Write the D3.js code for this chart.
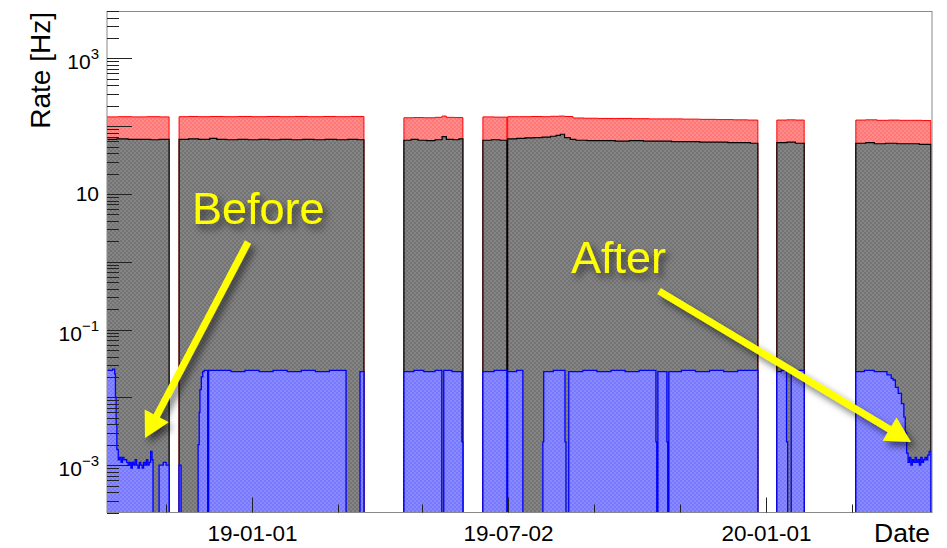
<!DOCTYPE html>
<html>
<head>
<meta charset="utf-8">
<script src="https://cdn.jsdelivr.net/npm/d3@7"></script>
<style>
  html, body { margin: 0; padding: 0; background: #fff; overflow: hidden; }
  text { font-family: "Liberation Sans", Arial, Helvetica, sans-serif; }
</style>
</head>
<body>
<svg id="chart" width="947" height="548"></svg>
<script>
// Reference day for the time offsets below
const startDate = "2019-01-01";

// Rates as [days since startDate, rate in Hz]; each step holds until the next entry, 0 = no data
const totalRate = [
  [-103, 137], [-95, 138], [-85, 137], [-75, 138], [-65, 137], [-58.9, 0],
  [-51.8, 138], [-45, 139], [-38, 138], [-30, 139], [-20, 138], [-10, 139], [0, 138], [10, 139],
  [20, 138], [30, 139], [40, 138], [50, 139], [60, 138], [70, 139], [79.5, 0],
  [107.9, 133], [115, 134], [122, 133], [130, 135], [135, 141], [138, 135], [144, 134], [149.8, 0],
  [164, 137], [172, 136], [181, 0], [181.6, 138], [190, 138], [198, 139], [206, 138], [212, 140],
  [218, 141], [222, 139], [228, 132], [236, 131], [246, 130], [258, 130], [270, 129], [282, 128],
  [294, 128], [306, 127], [318, 126], [330, 125], [342, 124], [352, 123], [359.3, 0],
  [372.8, 123], [380, 124], [386, 123], [392.2, 0],
  [428.9, 123], [436, 124], [444, 122], [452, 123], [460, 122], [468, 122], [476, 121], [482.2, 0]
];

const selectedRate = [
  [-103, 64], [-96, 65], [-88, 64], [-80, 64], [-72, 63], [-66, 64], [-58.9, 0],
  [-51.8, 64], [-45, 65], [-38, 64], [-30, 66], [-25, 64], [-18, 63], [-10, 64], [-3, 63], [5, 64],
  [12, 63], [20, 64], [28, 63], [36, 64], [44, 63], [52, 64], [60, 63], [68, 64], [75, 63], [79.5, 0],
  [107.9, 62], [113, 64], [118, 62], [124, 61], [130, 63], [135, 70], [138, 64], [143, 63], [147, 65], [149.8, 0],
  [164, 62], [170, 63], [176, 62], [181, 0], [181.6, 65], [188, 66], [194, 67], [200, 68], [206, 69],
  [212, 71], [216, 73], [219, 76], [222, 68], [226, 64], [230, 62], [238, 61], [248, 61], [258, 60],
  [268, 61], [278, 60], [288, 60], [298, 59], [308, 59], [318, 58], [328, 58], [338, 57], [348, 57],
  [354, 56], [359.3, 0],
  [372.8, 57], [380, 58], [386, 56], [392.2, 0],
  [428.9, 56], [436, 57], [442, 55], [450, 56], [458, 55], [466, 55], [474, 54], [482.2, 0]
];

const filteredRate = [
  [-103, 0.025], [-99, 0.026], [-97.5, 0.022], [-97, 0.01], [-96.5, 0.004], [-96, 0.0017],
  [-95, 0.0012], [-94, 0.0013], [-93, 0.0011], [-92, 0.0013], [-91, 0.0012], [-90, 0.0012],
  [-89, 0.0011], [-88, 0.0010], [-87, 0.0011], [-86, 0.0009], [-85, 0.0011], [-84, 0.0010],
  [-83, 0.0012], [-82, 0.0010], [-81, 0.0009], [-80, 0.0011], [-79, 0.0010], [-78, 0.0009],
  [-77, 0.0011], [-76, 0.0010], [-75, 0.0012], [-74, 0.0010], [-73, 0.0011], [-72, 0.0016],
  [-71, 0.0012], [-70.3, 0], [-66, 0.0010], [-63, 0.0011], [-61, 0.0010], [-58.9, 0],
  [-51.8, 0.0010], [-50.4, 0], [-38.3, 0.002], [-37.5, 0.006], [-37, 0.013], [-36, 0.02],
  [-35, 0.024], [-34, 0.025], [-31.5, 0], [-30.8, 0.025], [-25, 0.025], [-15, 0.024], [-5, 0.025],
  [5, 0.024], [15, 0.025], [25, 0.024], [35, 0.025], [45, 0.024], [55, 0.025], [66.8, 0],
  [76.7, 0.024], [79.5, 0],
  [107.9, 0.024], [115, 0.025], [122, 0.024], [130, 0.025], [134.8, 0], [136.2, 0.025],
  [142, 0.024], [149.1, 0.0022], [149.8, 0],
  [164, 0.024], [172, 0.025], [181, 0], [181.6, 0.024], [188, 0.025], [192.4, 0],
  [206.6, 0.0022], [207.2, 0.024], [214, 0.025], [222.3, 0.0022], [223, 0], [225, 0.024],
  [235, 0.025], [245, 0.024], [255, 0.025], [265, 0.024], [275, 0.025], [286.9, 0.0022],
  [287.5, 0], [288.3, 0.024], [294.7, 0.0022], [295.3, 0], [296.1, 0.024], [305, 0.025],
  [315, 0.024], [325, 0.025], [335, 0.024], [345, 0.025], [359.3, 0],
  [372.8, 0.024], [376, 0.025], [379.7, 0.0022], [380.5, 0], [383, 0.024], [388, 0.025], [392.2, 0],
  [428.9, 0.024], [435, 0.025], [442, 0.024], [448, 0.024], [451, 0.0215], [454, 0.019],
  [455.4, 0.018], [457, 0.014], [459, 0.0114], [461.3, 0.0081], [463, 0.0051], [464, 0.003],
  [465, 0.0015], [466, 0.0011], [467, 0.0013], [468, 0.0010], [469, 0.0012], [470, 0.0011],
  [471, 0.0013], [472, 0.0011], [473, 0.0012], [474, 0.0010], [475, 0.0013], [476, 0.0011],
  [477, 0.0012], [478, 0.0013], [479, 0.0012], [480, 0.0014], [481, 0.0016], [482.2, 0]
];

// Axis ticks and labels
const xMajorTicks = ["2019-01-01", "2019-07-02", "2020-01-01"];
const xMinorTicks = ["2018-11-01", "2019-03-03", "2019-05-02", "2019-09-01", "2019-11-01", "2020-03-02"];
const yLabelValues = [1e-3, 1e-1, 10, 1e3];
const yLabelExponents = ["\u22123", "\u22121", "", "3"];

// Annotations: text and arrow [tail, tip]
const notes = [
  { text: "Before", x: 192, y: 224, arrow: [[248, 242], [145, 438]] },
  { text: "After", x: 571, y: 273, arrow: [[659, 291], [911, 442]] }
];

const W = 947, H = 548;
const plot = { left: 107, right: 932, top: 11, bottom: 512.5 };
const base = d3.utcParse("%Y-%m-%d")(startDate);
const toDate = d => new Date(base.getTime() + d * 864e5);
const parse = d3.utcParse("%Y-%m-%d");

const x = d3.scaleUtc()
  .domain([parse("2018-09-20"), parse("2020-04-28")])
  .range([plot.left, plot.right]);
const y = d3.scaleLog()
  .domain([2e-4, 5e3])
  .range([plot.bottom, plot.top]);

const svg = d3.select("#chart");
const defs = svg.append("defs");

defs.append("clipPath").attr("id", "plotClip")
  .append("rect")
  .attr("x", plot.left).attr("y", plot.top)
  .attr("width", plot.right - plot.left).attr("height", plot.bottom - plot.top);

// fine checker fills
function checker(id, c1, c2) {
  const p = defs.append("pattern").attr("id", id)
    .attr("patternUnits", "userSpaceOnUse").attr("width", 4).attr("height", 4);
  p.append("rect").attr("width", 4).attr("height", 4).attr("fill", c1);
  p.append("rect").attr("width", 2).attr("height", 2).attr("fill", c2);
  p.append("rect").attr("x", 2).attr("y", 2).attr("width", 2).attr("height", 2).attr("fill", c2);
}
checker("fillRed", "#ff8a8a", "#ff7878");
checker("fillGray", "#858585", "#737373");
checker("fillBlue", "#8a8aff", "#7878ff");

const shadow = defs.append("filter").attr("id", "shadow")
  .attr("x", "-30%").attr("y", "-30%").attr("width", "160%").attr("height", "160%");
shadow.append("feDropShadow")
  .attr("dx", 4).attr("dy", 5).attr("stdDeviation", 3.5)
  .attr("flood-color", "#000").attr("flood-opacity", 0.55);

const below = plot.bottom + 6;
const yv = v => v > 0 ? y(v) : below;

const area = d3.area()
  .x(d => x(toDate(d[0])))
  .y0(below)
  .y1(d => yv(d[1]))
  .curve(d3.curveStepAfter);
const line = d3.line()
  .x(d => x(toDate(d[0])))
  .y(d => yv(d[1]))
  .curve(d3.curveStepAfter);

const g = svg.append("g").attr("clip-path", "url(#plotClip)");
const series = [
  { data: totalRate, fill: "url(#fillRed)", stroke: "#ff0000", width: 1 },
  { data: selectedRate, fill: "url(#fillGray)", stroke: "#000000", width: 1.2 },
  { data: filteredRate, fill: "url(#fillBlue)", stroke: "#0000ff", width: 1.3 }
];
series.forEach(s => {
  g.append("path").attr("d", area(s.data)).attr("fill", s.fill);
  g.append("path").attr("d", line(s.data)).attr("fill", "none")
    .attr("stroke", s.stroke).attr("stroke-width", s.width);
});

// frame
svg.append("rect")
  .attr("x", plot.left).attr("y", plot.top + 0.5)
  .attr("width", plot.right - plot.left).attr("height", plot.bottom - plot.top - 0.5)
  .attr("fill", "none").attr("stroke", "#8a8a8a").attr("stroke-width", 1);

// y axis ticks (drawn inward)
const yTicks = svg.append("g");
const [y0, y1] = y.domain();
for (let e = Math.floor(Math.log10(y0)); e <= Math.ceil(Math.log10(y1)); e++) {
  for (let k = 1; k <= 9; k++) {
    const v = k * Math.pow(10, e);
    if (v < y0 || v > y1) continue;
    const py = Math.round(y(v)) + 0.5;
    yTicks.append("line")
      .attr("x1", plot.left).attr("x2", plot.left + (k === 1 ? 25 : 12))
      .attr("y1", py).attr("y2", py)
      .attr("stroke", "#222").attr("stroke-width", 1);
  }
}
yLabelValues.forEach((v, i) => {
  const exp = yLabelExponents[i];
  const t = svg.append("text")
    .attr("x", 99).attr("y", y(v) + (exp ? 11 : 7.5))
    .attr("text-anchor", "end").attr("font-size", 21).attr("fill", "#000");
  t.append("tspan").text("10");
  if (exp) t.append("tspan").attr("font-size", 15).attr("dy", -10).text(exp);
});

// x axis ticks (drawn inward)
const xt = svg.append("g");
xMajorTicks.forEach(s => {
  const px = Math.round(x(parse(s))) + 0.5;
  xt.append("line").attr("x1", px).attr("x2", px)
    .attr("y1", plot.bottom).attr("y2", plot.bottom - 15)
    .attr("stroke", "#222");
  svg.append("text").attr("x", px).attr("y", 541)
    .attr("text-anchor", "middle").attr("font-size", 22.5)
    .text(d3.utcFormat("%y-%m-%d")(parse(s)));
});
xMinorTicks.forEach(s => {
  const px = Math.round(x(parse(s))) + 0.5;
  xt.append("line").attr("x1", px).attr("x2", px)
    .attr("y1", plot.bottom).attr("y2", plot.bottom - 8)
    .attr("stroke", "#222");
});

// axis titles
svg.append("text")
  .attr("transform", "translate(50,12) rotate(-90)")
  .attr("text-anchor", "end").attr("font-size", 28)
  .text("Rate [Hz]");
svg.append("text")
  .attr("x", 930).attr("y", 541.5)
  .attr("text-anchor", "end").attr("font-size", 26.5)
  .text("Date");

// annotations
function arrowPoints([tail, tip], w, L, Hh) {
  const dx = tip[0] - tail[0], dy = tip[1] - tail[1];
  const len = Math.hypot(dx, dy);
  const ux = dx / len, uy = dy / len, nx = -uy, ny = ux;
  const neck = [tip[0] - ux * L, tip[1] - uy * L];
  return [
    [tail[0] + nx * w / 2, tail[1] + ny * w / 2],
    [neck[0] + nx * w / 2, neck[1] + ny * w / 2],
    [neck[0] + nx * Hh / 2, neck[1] + ny * Hh / 2],
    tip,
    [neck[0] - nx * Hh / 2, neck[1] - ny * Hh / 2],
    [neck[0] - nx * w / 2, neck[1] - ny * w / 2],
    [tail[0] - nx * w / 2, tail[1] - ny * w / 2]
  ];
}
notes.forEach(n => {
  svg.append("text")
    .attr("x", n.x).attr("y", n.y)
    .attr("font-size", 45).attr("fill", "#ffff00")
    .attr("filter", "url(#shadow)")
    .text(n.text);
  svg.append("polygon")
    .attr("points", arrowPoints(n.arrow, 7, 25, 27).map(p => p.join(",")).join(" "))
    .attr("fill", "#ffff00")
    .attr("filter", "url(#shadow)");
});
</script>
</body>
</html>
